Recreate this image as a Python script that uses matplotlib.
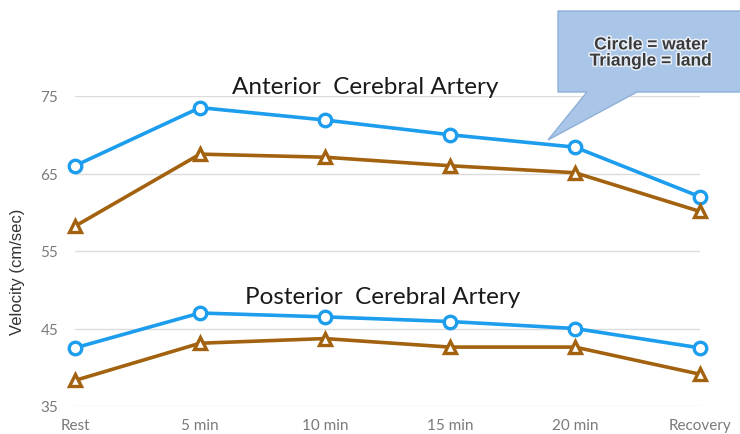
import matplotlib
matplotlib.use("Agg")
import matplotlib.pyplot as plt
from matplotlib.patches import Polygon
import matplotlib.patheffects as pe

# Time points and velocities (cm/sec)
stages = ["Rest", "5 min", "10 min", "15 min", "20 min", "Recovery"]
aca_water = [66.0, 73.5, 71.9, 70.0, 68.4, 62.0]
aca_land = [58.2, 67.5, 67.1, 66.0, 65.1, 60.1]
pca_water = [42.5, 47.0, 46.5, 45.9, 45.0, 42.5]
pca_land = [38.3, 43.1, 43.7, 42.6, 42.6, 39.1]
y_ticks = [35, 45, 55, 65, 75]

W, H = 740, 435
BLUE = "#1c9ded"
BROWN = "#a3620f"

plt.rcParams["font.family"] = ["Lato", "DejaVu Sans"]

fig = plt.figure(figsize=(W / 100, H / 100), dpi=100)
ax = fig.add_axes([75 / W, 1 - 407 / H, (700 - 75) / W, (407 - 97) / H])

x = list(range(len(stages)))
common = dict(lw=2.6, markersize=9, markeredgewidth=2.4,
              markerfacecolor="white", clip_on=False, zorder=3)
ax.plot(x, aca_water, color=BLUE, marker="o", markeredgecolor=BLUE, **common)
ax.plot(x, aca_land, color=BROWN, marker="^", markeredgecolor=BROWN, **common)
ax.plot(x, pca_water, color=BLUE, marker="o", markeredgecolor=BLUE, **common)
ax.plot(x, pca_land, color=BROWN, marker="^", markeredgecolor=BROWN, **common)

ax.set_xlim(0, len(stages) - 1)
ax.set_ylim(35, 75)
ax.set_yticks(y_ticks)
ax.set_xticks(x)
ax.set_xticklabels(stages)
ax.grid(axis="y", color="#dcdcdc", lw=1)
ax.set_axisbelow(True)
for s in ax.spines.values():
    s.set_visible(False)
ax.tick_params(axis="both", length=0, colors="#7a7a7a", labelsize=11)
ax.tick_params(axis="y", pad=12)
ax.tick_params(axis="x", pad=9)

fig.text(18 / W, 1 - 272 / H, "Velocity (cm/sec)", rotation=90,
         ha="center", va="center", fontsize=12, color="#333333",
         family=["Liberation Sans", "DejaVu Sans"])

fig.text(365 / W, 1 - 88 / H, "Anterior  Cerebral Artery", ha="center",
         va="center", fontsize=17.5, color="#1a1a1a")
fig.text(383 / W, 1 - 298 / H, "Posterior  Cerebral Artery", ha="center",
         va="center", fontsize=17.5, color="#1a1a1a")

# Speech-bubble legend
bubble_px = [(558, 12), (742, 12), (742, 93), (637, 93), (548, 141), (587, 93),
             (558, 93)]
bubble = Polygon([(px / W, 1 - py / H) for px, py in bubble_px],
                 closed=True, transform=fig.transFigure, facecolor="#a9c6e8",
                 edgecolor="#8fb0d8", lw=1, zorder=5)
fig.patches.append(bubble)
fig.text(651 / W, 1 - 54 / H, "Circle = water\nTriangle = land",
         ha="center", va="center", fontsize=12.5, fontweight="bold",
         color="#3a3a3a", linespacing=1.1, zorder=6,
         family=["Liberation Sans", "DejaVu Sans"],
         path_effects=[pe.withStroke(linewidth=2.2, foreground="#e8eef6")])

fig.savefig("out.png", dpi=100)
